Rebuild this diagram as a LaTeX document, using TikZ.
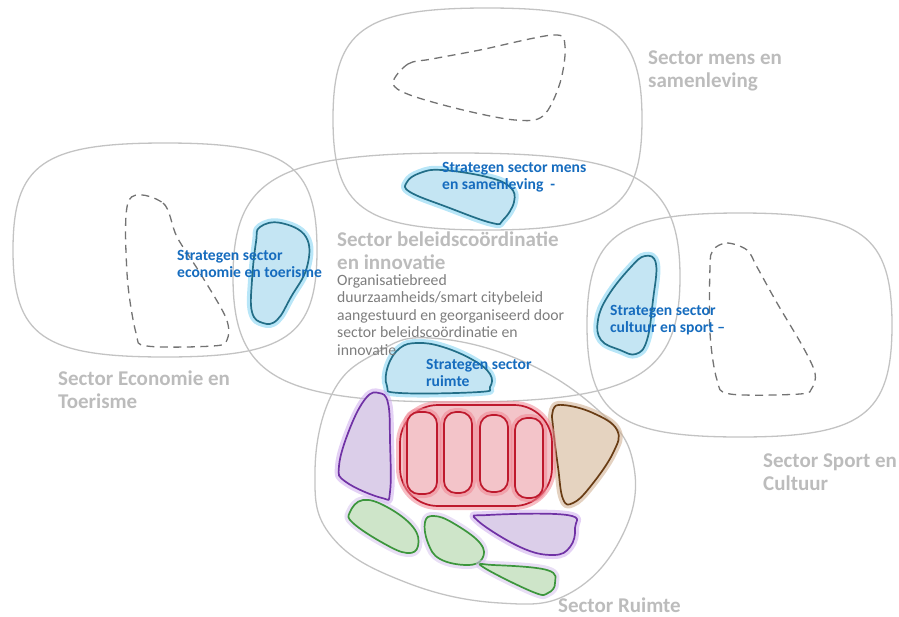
\documentclass[tikz,border=0pt]{standalone}
\usepackage{fontspec}
\setmainfont{Carlito}
\usetikzlibrary{calc}

\definecolor{sectorline}{RGB}{195,195,195}
\definecolor{sectortext}{RGB}{188,188,188}
\definecolor{bodytext}{RGB}{125,125,125}
\definecolor{strategtext}{RGB}{22,108,190}
\definecolor{dashline}{RGB}{115,115,115}
\definecolor{blueFill}{RGB}{196,229,243}
\definecolor{blueLine}{RGB}{35,110,135}
\definecolor{blueGlow}{RGB}{125,210,242}
\definecolor{redFill}{RGB}{243,196,201}
\definecolor{redLine}{RGB}{190,25,45}
\definecolor{redGlow}{RGB}{240,135,148}
\definecolor{purpleFill}{RGB}{219,206,233}
\definecolor{purpleLine}{RGB}{112,50,165}
\definecolor{purpleGlow}{RGB}{205,172,236}
\definecolor{brownFill}{RGB}{229,211,192}
\definecolor{brownLine}{RGB}{105,60,20}
\definecolor{brownGlow}{RGB}{205,172,140}
\definecolor{greenFill}{RGB}{206,229,201}
\definecolor{greenLine}{RGB}{60,150,60}
\definecolor{greenGlow}{RGB}{214,194,236}

\tikzset{
  sector/.style={draw=sectorline, line width=1.3pt},
  scope line/.style={draw=dashline, line width=1.3pt, dash pattern=on 8pt off 5.5pt},
  region/.style n args={3}{fill=#1, draw=#2, line width=1.7pt, line join=round,
    preaction={draw=#3, line width=8pt, draw opacity=0.55, line join=round}},
  strategen/.style={region={blueFill}{blueLine}{blueGlow}},
  redregion/.style={region={redFill}{redLine}{redGlow}},
  purpleregion/.style={region={purpleFill}{purpleLine}{purpleGlow}},
  brownregion/.style={region={brownFill}{brownLine}{brownGlow}},
  greenregion/.style={region={greenFill}{greenLine}{greenGlow}},
  % multi-line labels are placed by the baseline of their last line
  sectorlabel/.style={anchor=base west, inner sep=0pt, align=left, text=sectortext,
    font=\fontsize{21}{23}\selectfont\bfseries},
  strateglabel/.style={anchor=base west, inner sep=0pt, align=left, text=strategtext,
    font=\fontsize{15.6}{17}\selectfont\bfseries},
  bodylabel/.style={anchor=base west, inner sep=0pt, align=left, text=bodytext,
    font=\fontsize{15.7}{17.5}\selectfont}
}

\begin{document}
\begin{tikzpicture}[x=1pt, y=-1pt]
\useasboundingbox (0,0) rectangle (899,616);

% ---- sector outlines ----
% mens en samenleving
\draw[sector] (487,8) .. controls (611,8) and (642,30) .. (642,119)
  .. controls (642,208) and (611,230) .. (487,230)
  .. controls (363,230) and (333,208) .. (333,119)
  .. controls (333,30) and (363,8) .. (487,8) -- cycle;
% economie en toerisme
\draw[sector] (165,143) .. controls (287,143) and (317,164) .. (317,250)
  .. controls (317,336) and (287,357) .. (165,357)
  .. controls (43,357) and (13,336) .. (13,250)
  .. controls (13,164) and (43,143) .. (165,143) -- cycle;
% beleidscoordinatie en innovatie
\draw[sector] (456,153) .. controls (634,153) and (680,177) .. (680,277)
  .. controls (680,377) and (634,402) .. (456,402)
  .. controls (278,402) and (233,377) .. (233,277)
  .. controls (233,177) and (278,153) .. (456,153) -- cycle;
% sport en cultuur
\draw[sector] (740,213) .. controls (862,213) and (892,235) .. (892,325)
  .. controls (892,415) and (862,437) .. (740,437)
  .. controls (618,437) and (587,415) .. (587,325)
  .. controls (587,235) and (618,213) .. (740,213) -- cycle;
% ruimte
\draw[sector] plot[smooth cycle, tension=0.7] coordinates {
  (430,338) (520,360) (598,410) (633,462) (624,532) (572,592)
  (500,603) (405,582) (332,537) (315,472) (333,392) (378,352)};

% ---- dashed scopes inside the sectors ----
\draw[scope line] plot[smooth cycle, tension=0.55] coordinates {
  (393,83) (408,64) (432,59) (480,50) (553,35) (565,46) (560,83)
  (543,116) (515,120) (463,110) (410,95)};
\draw[scope line] plot[smooth cycle, tension=0.55] coordinates {
  (129,200) (163,203) (177,237) (200,273) (226,318) (227,340)
  (213,346) (147,346) (136,333) (127,273)};
\draw[scope line] plot[smooth cycle, tension=0.55] coordinates {
  (713,250) (727,243) (747,250) (757,267) (777,303) (803,347)
  (815,373) (812,388) (800,394) (730,394) (717,380) (710,333) (710,267)};

% ---- strategen regions ----
\path[strategen] plot[smooth cycle, tension=0.7] coordinates {
  (407,182) (420,173) (442,170) (487,177) (510,187) (514,202)
  (503,220) (492,223) (447,207) (410,192)};
\path[strategen] plot[smooth cycle, tension=0.7] coordinates {
  (260,227) (281,223) (306,237) (307,267) (291,297) (277,320)
  (263,323) (252,312) (252,280) (256,242)};
\path[strategen] plot[smooth cycle, tension=0.7] coordinates {
  (645,256) (656,264) (653,300) (647,340) (636,354) (620,350)
  (601,340) (598,320) (608,296) (630,268)};
\path[strategen] plot[smooth cycle, tension=0.7] coordinates {
  (388,366) (400,348) (418,343) (443,347) (473,360) (490,374)
  (490,387) (479,392) (400,393) (387,386)};

% ---- ruimte subregions ----
\path[purpleregion] plot[smooth cycle, tension=0.7] coordinates {
  (339,466) (350,428) (366,398) (379,393) (388,403) (390,440)
  (390,492) (382,498) (346,482)};
\path[brownregion] plot[smooth cycle, tension=0.7] coordinates {
  (553,410) (563,405) (593,413) (617,430) (613,453) (590,487)
  (573,503) (563,499) (558,467) (553,427)};
\path[redregion, rounded corners=38pt] (400,405) rectangle (552,506);
\path[redregion, rounded corners=12pt] (407,412) rectangle (437,494);
\path[redregion, rounded corners=12pt] (444,412) rectangle (472,493);
\path[redregion, rounded corners=12pt] (480,415) rectangle (508,492);
\path[redregion, rounded corners=12pt] (515,418) rectangle (543,498);
\path[greenregion] plot[smooth cycle, tension=0.7] coordinates {
  (350,512) (363,500) (387,507) (413,527) (418,546) (407,553)
  (383,543) (353,523)};
\path[greenregion] plot[smooth cycle, tension=0.7] coordinates {
  (425,522) (434,516) (453,523) (480,543) (482,559) (467,565)
  (440,559) (428,543)};
\path[purpleregion] plot[smooth cycle, tension=0.7] coordinates {
  (477,520) (488,515) (567,515) (575,528) (570,547) (553,555)
  (520,547)};
\path[greenregion] plot[smooth cycle, tension=0.7] coordinates {
  (483,567) (493,565) (547,570) (555,583) (548,593) (533,592)};

% ---- labels ----
\node[sectorlabel] (lmens) at (648,87) {Sector mens en\\samenleving};
\node[sectorlabel] (leco) at (58,408) {Sector Economie en\\Toerisme};
\node[sectorlabel] (lbel) at (337,269) {Sector beleidscoördinatie\\en innovatie};
\node[sectorlabel] (lsport) at (763,490) {Sector Sport en\\Cultuur};
\node[sectorlabel] (lruimte) at (558,612) {Sector Ruimte};
\node[bodylabel] (lbody) at (337,355) {Organisatiebreed\\duurzaamheids/smart citybeleid\\aangestuurd en georganiseerd door\\sector beleidscoördinatie en\\innovatie};
\node[strateglabel] (smens) at (442,189) {Strategen sector mens\\en samenleving\ \ -};
\node[strateglabel] (seco) at (177,277) {Strategen sector\\economie en toerisme};
\node[strateglabel] (scult) at (610,332) {Strategen sector\\cultuur en sport –};
\node[strateglabel] (sruim) at (426,386) {Strategen sector\\ruimte};
\end{tikzpicture}
\end{document}
